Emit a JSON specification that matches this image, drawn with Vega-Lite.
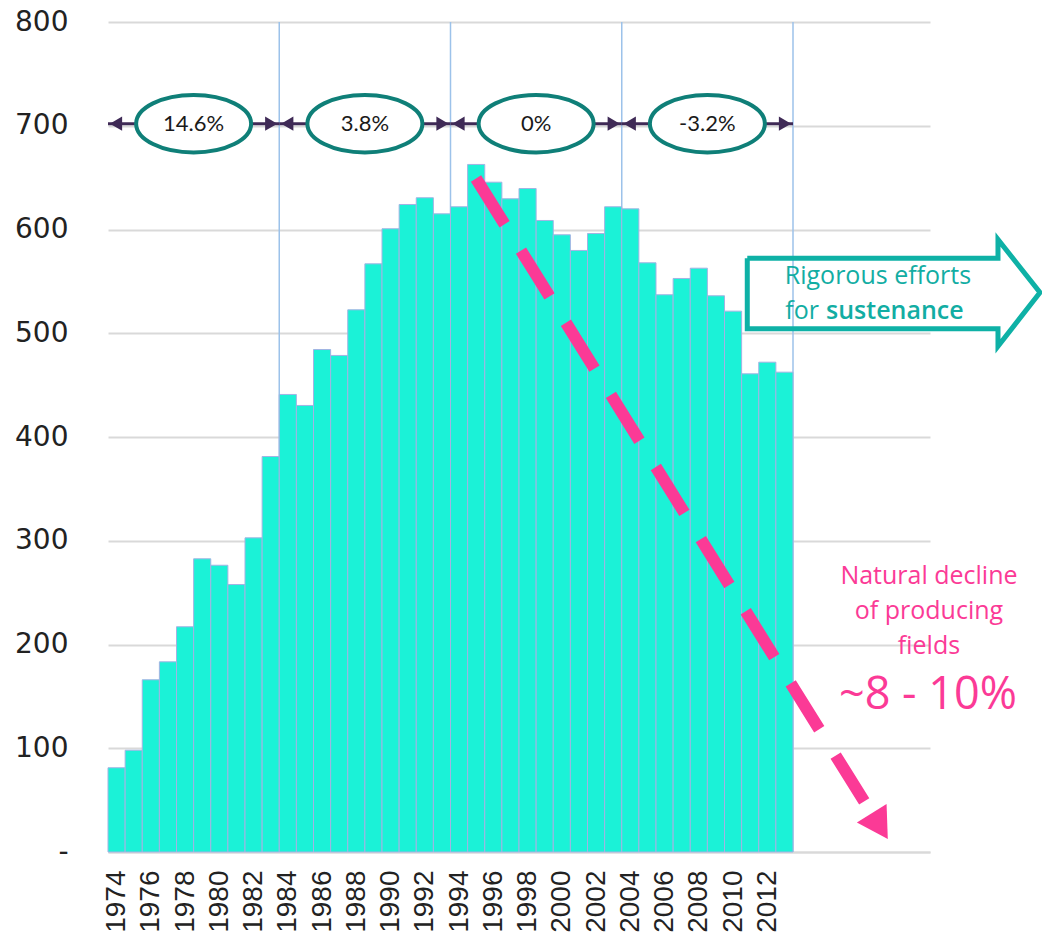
{
  "$schema": "https://vega.github.io/schema/vega-lite/v6.json",
  "width": 822,
  "height": 830,
  "autosize": "none",
  "padding": {"left": 108, "top": 22, "right": 112, "bottom": 96},
  "background": "white",
  "config": {"view": {"stroke": null}},
  "datasets": {
    "bars": [
      {"year": 1974, "value": 81.2}, {"year": 1975, "value": 98.1}, {"year": 1976, "value": 166.0},
      {"year": 1977, "value": 183.3}, {"year": 1978, "value": 217.1}, {"year": 1979, "value": 282.6},
      {"year": 1980, "value": 276.4}, {"year": 1981, "value": 257.8}, {"year": 1982, "value": 302.8},
      {"year": 1983, "value": 381.2}, {"year": 1984, "value": 441.0}, {"year": 1985, "value": 430.4},
      {"year": 1986, "value": 484.3}, {"year": 1987, "value": 478.6}, {"year": 1988, "value": 522.6},
      {"year": 1989, "value": 566.9}, {"year": 1990, "value": 600.7}, {"year": 1991, "value": 624.1},
      {"year": 1992, "value": 630.6}, {"year": 1993, "value": 615.1}, {"year": 1994, "value": 621.9},
      {"year": 1995, "value": 662.7}, {"year": 1996, "value": 645.6}, {"year": 1997, "value": 629.6},
      {"year": 1998, "value": 639.5}, {"year": 1999, "value": 608.7}, {"year": 2000, "value": 594.9},
      {"year": 2001, "value": 579.8}, {"year": 2002, "value": 596.1}, {"year": 2003, "value": 621.9},
      {"year": 2004, "value": 619.9}, {"year": 2005, "value": 567.9}, {"year": 2006, "value": 537.1},
      {"year": 2007, "value": 552.8}, {"year": 2008, "value": 562.7}, {"year": 2009, "value": 536.1},
      {"year": 2010, "value": 521.3}, {"year": 2011, "value": 460.9}, {"year": 2012, "value": 472.1},
      {"year": 2013, "value": 462.5}
    ],
    "periods": [
      {"from": 1973.5, "to": 1983.5, "mid": 1978.5, "level": 702, "label": "14.6%"},
      {"from": 1983.5, "to": 1993.5, "mid": 1988.5, "level": 702, "label": "3.8%"},
      {"from": 1993.5, "to": 2003.5, "mid": 1998.5, "level": 702, "label": "0%"},
      {"from": 2003.5, "to": 2013.5, "mid": 2008.5, "level": 702, "label": "-3.2%"}
    ],
    "dividers": [
      {"year": 1983.5}, {"year": 1993.5}, {"year": 2003.5}, {"year": 2013.5}
    ],
    "decline": [
      {"year": 1994.99, "value": 649.2, "order": 0},
      {"year": 2017.94, "value": 41.3, "order": 1}
    ],
    "declineHead": [
      {"year": 2018.41, "value": 29.1}
    ],
    "blockArrow": [
      {"year": 2010.83, "value": 572.3, "order": 0},
      {"year": 2025.47, "value": 572.3, "order": 1},
      {"year": 2025.47, "value": 590.4, "order": 2},
      {"year": 2027.92, "value": 539.3, "order": 3},
      {"year": 2025.47, "value": 487.5, "order": 4},
      {"year": 2025.47, "value": 504.3, "order": 5},
      {"year": 2010.83, "value": 504.3, "order": 6},
      {"year": 2010.83, "value": 572.3, "order": 7}
    ],
    "tealText": [
      {"year": 2018.46, "value": 554.7, "text": "Rigorous efforts"}
    ],
    "tealFor": [
      {"year": 2015.02, "value": 521.0, "text": "for"}
    ],
    "tealSust": [
      {"year": 2015.43, "value": 521.0, "text": "sustenance"}
    ],
    "pinkText": [
      {"year": 2021.44, "value": 266.5, "text": "Natural decline"},
      {"year": 2021.44, "value": 232.3, "text": "of producing"},
      {"year": 2021.44, "value": 198.1, "text": "fields"}
    ],
    "pinkBig": [
      {"year": 2021.38, "value": 151.5, "text": "~8 - 10%"}
    ]
  },
  "layer": [
    {
      "data": {"name": "dividers"},
      "mark": {"type": "rule", "color": "#9cc2ea", "strokeWidth": 1.5},
      "encoding": {
        "x": {"field": "year", "type": "quantitative", "title": null},
        "y": {"datum": 800, "type": "quantitative", "title": null},
        "y2": {"datum": 0}
      }
    },
    {
      "data": {"name": "bars"},
      "mark": {"type": "bar", "size": 17.125, "color": "#1BF2D7", "stroke": "#a3b3e3", "strokeWidth": 1},
      "encoding": {
        "x": {
          "field": "year", "type": "quantitative", "title": null,
          "scale": {"domain": [1973.5, 2021.5], "nice": false, "zero": false, "padding": 0},
          "axis": {
            "values": [1974, 1976, 1978, 1980, 1982, 1984, 1986, 1988, 1990, 1992, 1994, 1996, 1998, 2000, 2002, 2004, 2006, 2008, 2010, 2012],
            "format": "d", "labelAngle": -90, "labelFont": "Liberation Sans", "labelFontSize": 28,
            "labelColor": "#222222", "labelPadding": 18, "labelOverlap": false, "labelFlush": false,
            "ticks": false, "tickSize": 0, "grid": false, "domain": true, "domainColor": "#d9d9d9", "domainWidth": 2
          }
        },
        "y": {
          "field": "value", "type": "quantitative", "title": null,
          "scale": {"domain": [0, 800], "nice": false},
          "axis": {
            "values": [0, 100, 200, 300, 400, 500, 600, 700, 800],
            "labelExpr": "datum.value === 0 ? '-\u00a0\u00a0' : datum.label",
            "labelFont": "DejaVu Sans", "labelFontSize": 28, "labelColor": "#222222",
            "labelPadding": 40, "ticks": false, "tickSize": 0, "domain": false,
            "grid": true, "gridColor": "#d9d9d9", "gridWidth": 2
          }
        }
      }
    },
    {
      "data": {"name": "periods"},
      "mark": {"type": "rule", "color": "#3f2a56", "strokeWidth": 3},
      "encoding": {
        "x": {"field": "from", "type": "quantitative", "title": null},
        "x2": {"field": "to"},
        "y": {"field": "level", "type": "quantitative", "title": null}
      }
    },
    {
      "data": {"name": "periods"},
      "mark": {"type": "point", "shape": "triangle-left", "filled": true, "size": 200, "color": "#3f2a56", "opacity": 1, "xOffset": 8},
      "encoding": {
        "x": {"field": "from", "type": "quantitative", "title": null},
        "y": {"field": "level", "type": "quantitative", "title": null}
      }
    },
    {
      "data": {"name": "periods"},
      "mark": {"type": "point", "shape": "triangle-right", "filled": true, "size": 200, "color": "#3f2a56", "opacity": 1, "xOffset": -8},
      "encoding": {
        "x": {"field": "to", "type": "quantitative", "title": null},
        "y": {"field": "level", "type": "quantitative", "title": null}
      }
    },
    {
      "data": {"name": "periods"},
      "mark": {"type": "point", "shape": "M -1 0 A 1 0.5 0 1 1 1 0 A 1 0.5 0 1 1 -1 0 Z", "size": 13225, "fill": "white", "stroke": "#0f7f78", "strokeWidth": 4, "opacity": 1, "filled": true},
      "encoding": {
        "x": {"field": "mid", "type": "quantitative", "title": null},
        "y": {"field": "level", "type": "quantitative", "title": null}
      }
    },
    {
      "data": {"name": "periods"},
      "mark": {"type": "text", "font": "Lato", "fontSize": 22, "color": "#1a1a1a", "align": "center", "baseline": "middle"},
      "encoding": {
        "x": {"field": "mid", "type": "quantitative", "title": null},
        "y": {"field": "level", "type": "quantitative", "title": null},
        "text": {"field": "label"}
      }
    },
    {
      "data": {"name": "decline"},
      "mark": {"type": "line", "color": "#fb3a96", "strokeWidth": 12, "strokeDash": [54, 31], "strokeCap": "butt"},
      "encoding": {
        "x": {"field": "year", "type": "quantitative", "title": null},
        "y": {"field": "value", "type": "quantitative", "title": null},
        "order": {"field": "order"}
      }
    },
    {
      "data": {"name": "declineHead"},
      "mark": {"type": "point", "shape": "triangle", "angle": 148, "size": 1225, "filled": true, "color": "#fb3a96", "opacity": 1},
      "encoding": {
        "x": {"field": "year", "type": "quantitative", "title": null},
        "y": {"field": "value", "type": "quantitative", "title": null}
      }
    },
    {
      "data": {"name": "blockArrow"},
      "mark": {"type": "line", "color": "#0eb1a6", "strokeWidth": 5, "strokeJoin": "miter"},
      "encoding": {
        "x": {"field": "year", "type": "quantitative", "title": null},
        "y": {"field": "value", "type": "quantitative", "title": null},
        "order": {"field": "order"}
      }
    },
    {
      "data": {"name": "tealText"},
      "mark": {"type": "text", "font": "Open Sans", "fontSize": 25, "color": "#12ada3", "align": "center", "baseline": "middle"},
      "encoding": {
        "x": {"field": "year", "type": "quantitative", "title": null},
        "y": {"field": "value", "type": "quantitative", "title": null},
        "text": {"field": "text"}
      }
    },
    {
      "data": {"name": "tealFor"},
      "mark": {"type": "text", "font": "Open Sans", "fontSize": 25, "color": "#12ada3", "align": "right", "baseline": "middle"},
      "encoding": {
        "x": {"field": "year", "type": "quantitative", "title": null},
        "y": {"field": "value", "type": "quantitative", "title": null},
        "text": {"field": "text"}
      }
    },
    {
      "data": {"name": "tealSust"},
      "mark": {"type": "text", "font": "Open Sans", "fontSize": 25, "fontWeight": 600, "color": "#12ada3", "align": "left", "baseline": "middle"},
      "encoding": {
        "x": {"field": "year", "type": "quantitative", "title": null},
        "y": {"field": "value", "type": "quantitative", "title": null},
        "text": {"field": "text"}
      }
    },
    {
      "data": {"name": "pinkText"},
      "mark": {"type": "text", "font": "Open Sans", "fontSize": 25, "color": "#fb3a96", "align": "center", "baseline": "middle"},
      "encoding": {
        "x": {"field": "year", "type": "quantitative", "title": null},
        "y": {"field": "value", "type": "quantitative", "title": null},
        "text": {"field": "text"}
      }
    },
    {
      "data": {"name": "pinkBig"},
      "mark": {"type": "text", "font": "Open Sans", "fontSize": 45, "color": "#fb3a96", "align": "center", "baseline": "middle"},
      "encoding": {
        "x": {"field": "year", "type": "quantitative", "title": null},
        "y": {"field": "value", "type": "quantitative", "title": null},
        "text": {"field": "text"}
      }
    }
  ]
}
